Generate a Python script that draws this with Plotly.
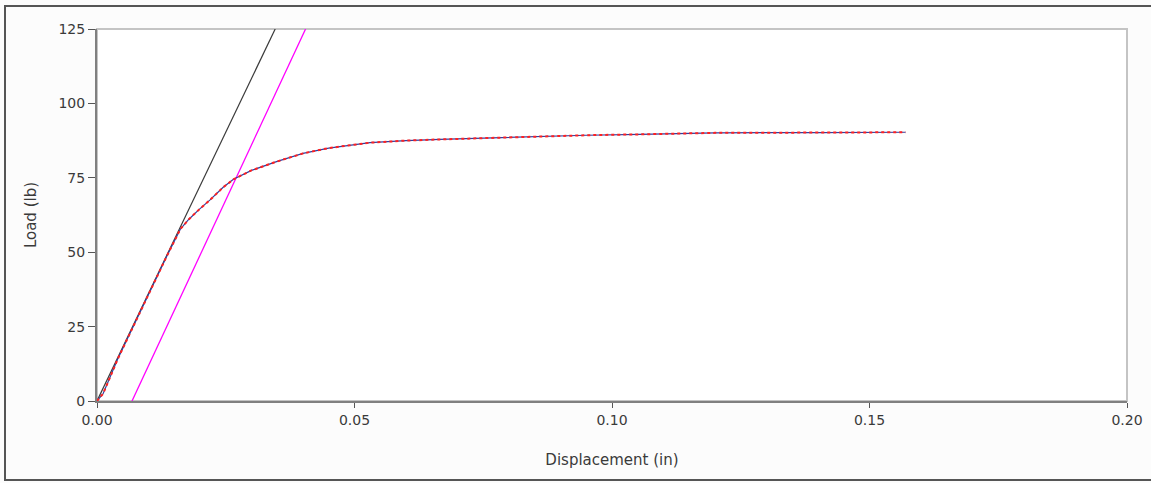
import plotly.graph_objects as go

# Measured load-displacement data
disp = [0.0, 0.0012, 0.0040, 0.0070, 0.0100, 0.0135, 0.0162, 0.0178, 0.0198, 0.0219, 0.0245, 0.0265,
        0.0300, 0.0350, 0.0400, 0.0450, 0.0530, 0.0600, 0.0666, 0.0763, 0.0860, 0.0950,
        0.1054, 0.1200, 0.1400, 0.1570]
load = [0.0, 2.5, 14.0, 25.0, 36.0, 48.5, 57.8, 61.0, 64.3, 67.5, 71.8, 74.5,
        77.5, 80.5, 83.2, 85.0, 86.8, 87.5, 87.9, 88.4, 89.0, 89.3,
        89.6, 90.1, 90.2, 90.3]

# Elastic (initial stiffness) line
elastic_x = [0.0, 0.0346]
elastic_y = [0.0, 125.0]

# Offset line
offset_x = [0.0068, 0.0405]
offset_y = [0.0, 125.0]

x_ticks = [0.0, 0.05, 0.10, 0.15, 0.20]
x_tick_text = ["0.00", "0.05", "0.10", "0.15", "0.20"]
y_ticks = [0, 25, 50, 75, 100, 125]

fig = go.Figure()
fig.add_trace(go.Scatter(x=elastic_x, y=elastic_y, mode="lines",
                         line=dict(color="#3a3a3a", width=1.2), showlegend=False))
fig.add_trace(go.Scatter(x=offset_x, y=offset_y, mode="lines",
                         line=dict(color="#ff00ff", width=1.3), showlegend=False))
fig.add_trace(go.Scatter(x=disp, y=load, mode="lines",
                         line=dict(color="#3040a0", width=1.2), showlegend=False))
fig.add_trace(go.Scatter(x=disp, y=load, mode="lines",
                         line=dict(color="#ff2020", width=2, dash="dot"), showlegend=False))

W, H = 1151, 483
L, R, T, B = 97, 24, 29, 82
pw, ph = W - L - R, H - T - B

def px(x):
    return (x - L) / pw

def py(y):
    return (H - B - y) / ph

shapes = [
    # outer border
    dict(type="rect", xref="paper", yref="paper", x0=px(5), x1=px(1156), y0=py(480), y1=py(6),
         line=dict(color="#555555", width=2), fillcolor="rgba(0,0,0,0)", layer="below"),
    # plot area frame
    dict(type="rect", xref="paper", yref="paper", x0=0, x1=1, y0=0, y1=1,
         line=dict(color="#c4c4c4", width=2), fillcolor="rgba(0,0,0,0)", layer="below"),
]

font = dict(family="DejaVu Sans, Verdana, sans-serif", size=14, color="#3a3a3a")
title_font = dict(family="DejaVu Sans, Verdana, sans-serif", size=15, color="#3a3a3a")

fig.update_layout(
    width=W, height=H,
    margin=dict(l=L, r=R, t=T, b=B, autoexpand=False),
    paper_bgcolor="#fcfcfc",
    plot_bgcolor="#ffffff",
    font=font,
    shapes=shapes,
    xaxis=dict(range=[0, 0.20], tickvals=x_ticks, ticktext=x_tick_text, automargin=False,
               showgrid=False, zeroline=False, showline=True, linecolor="#808080", linewidth=2,
               ticks="outside", ticklen=5, tickcolor="#555555", tickwidth=1,
               title=dict(text="Displacement (in)", standoff=28, font=title_font)),
    yaxis=dict(range=[0, 125], tickvals=y_ticks, automargin=False,
               showgrid=False, zeroline=False, showline=True, linecolor="#808080", linewidth=2,
               ticks="outside", ticklen=7, tickcolor="#555555", tickwidth=1,
               title=dict(text="Load (lb)", standoff=18, font=title_font)),
)

fig.write_html("out.html", config={"displayModeBar": False},
               post_script="document.body.style.margin='0';document.body.style.padding='0';")
